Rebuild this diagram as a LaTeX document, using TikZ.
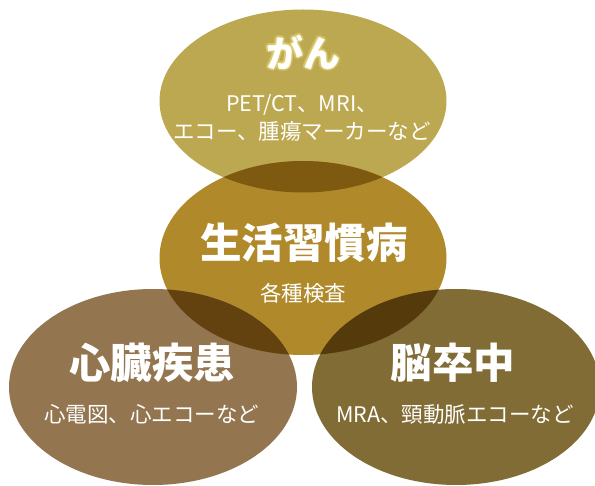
\documentclass[tikz,border=0pt]{standalone}
\usepackage{fontspec}
\setmainfont{Noto Sans CJK JP}
\usetikzlibrary{shapes.geometric}
\definecolor{cTop}{HTML}{BCA851}
\definecolor{cMid}{HTML}{B08A2A}
\definecolor{cLeft}{HTML}{937650}
\definecolor{cRight}{HTML}{806C34}
\definecolor{oTop}{HTML}{7D5A0F}
\definecolor{oLeft}{HTML}{63420F}
\definecolor{oRight}{HTML}{553A0B}
\definecolor{glow}{HTML}{EADB7A}
\tikzset{
  blob/.style={ellipse, inner sep=0pt, draw=none},
  head/.style={text=white, font=\fontsize{41.5}{44}\selectfont\bfseries},
  sub/.style={text=white, font=\fontsize{21.5}{28}\selectfont, align=center},
  glowtext/.style={text=glow, opacity=0.3, font=\fontsize{37}{40}\selectfont\bfseries},
}
\begin{document}
\begin{tikzpicture}[x=1pt,y=-1pt]
\useasboundingbox (0,0) rectangle (595,486);
% ellipses
\node[blob, fill=cTop, minimum width=287pt, minimum height=183pt] (top) at (303,101) {};
\node[blob, fill=cMid, minimum width=287pt, minimum height=194pt] (mid) at (303,258) {};
\begin{scope}
  \clip (303,101) ellipse [x radius=143.5pt, y radius=91.5pt];
  \fill[oTop] (303,258) ellipse [x radius=143.5pt, y radius=97pt];
\end{scope}
\node[blob, fill=cLeft, minimum width=288pt, minimum height=196pt] (left) at (153,387) {};
\begin{scope}
  \clip (303,258) ellipse [x radius=143.5pt, y radius=97pt];
  \fill[oLeft] (153,387) ellipse [x radius=144pt, y radius=98pt];
\end{scope}
\node[blob, fill=cRight, minimum width=288pt, minimum height=196pt] (right) at (456,387) {};
\begin{scope}
  \clip (303,258) ellipse [x radius=143.5pt, y radius=97pt];
  \fill[oRight] (456,387) ellipse [x radius=144pt, y radius=98pt];
\end{scope}
% glow behind がん
\foreach \dx/\dy [count=\i] in {-2/0,2/0,0/-2,0/2,-1.4/-1.4,1.4/1.4,-1.4/1.4,1.4/-1.4}{
  \node[glowtext] (g\i) at (303+\dx,52+\dy) {がん};
}
% texts
\node[head, font=\fontsize{37}{40}\selectfont\bfseries] (tA) at (303,52) {がん};
\node[sub] (tB) at (302,118) {PET/CT、MRI、\\エコー、腫瘍マーカーなど};
\node[head] (mA) at (304,243) {生活習慣病};
\node[sub] (mB) at (303,293) {各種検査};
\node[head] (lA) at (152,363) {心臓疾患};
\node[sub] (lB) at (152,414) {心電図、心エコーなど};
\node[head] (rA) at (453,363) {脳卒中};
\node[sub] (rB) at (455,414) {MRA、頸動脈エコーなど};
\end{tikzpicture}
\end{document}
